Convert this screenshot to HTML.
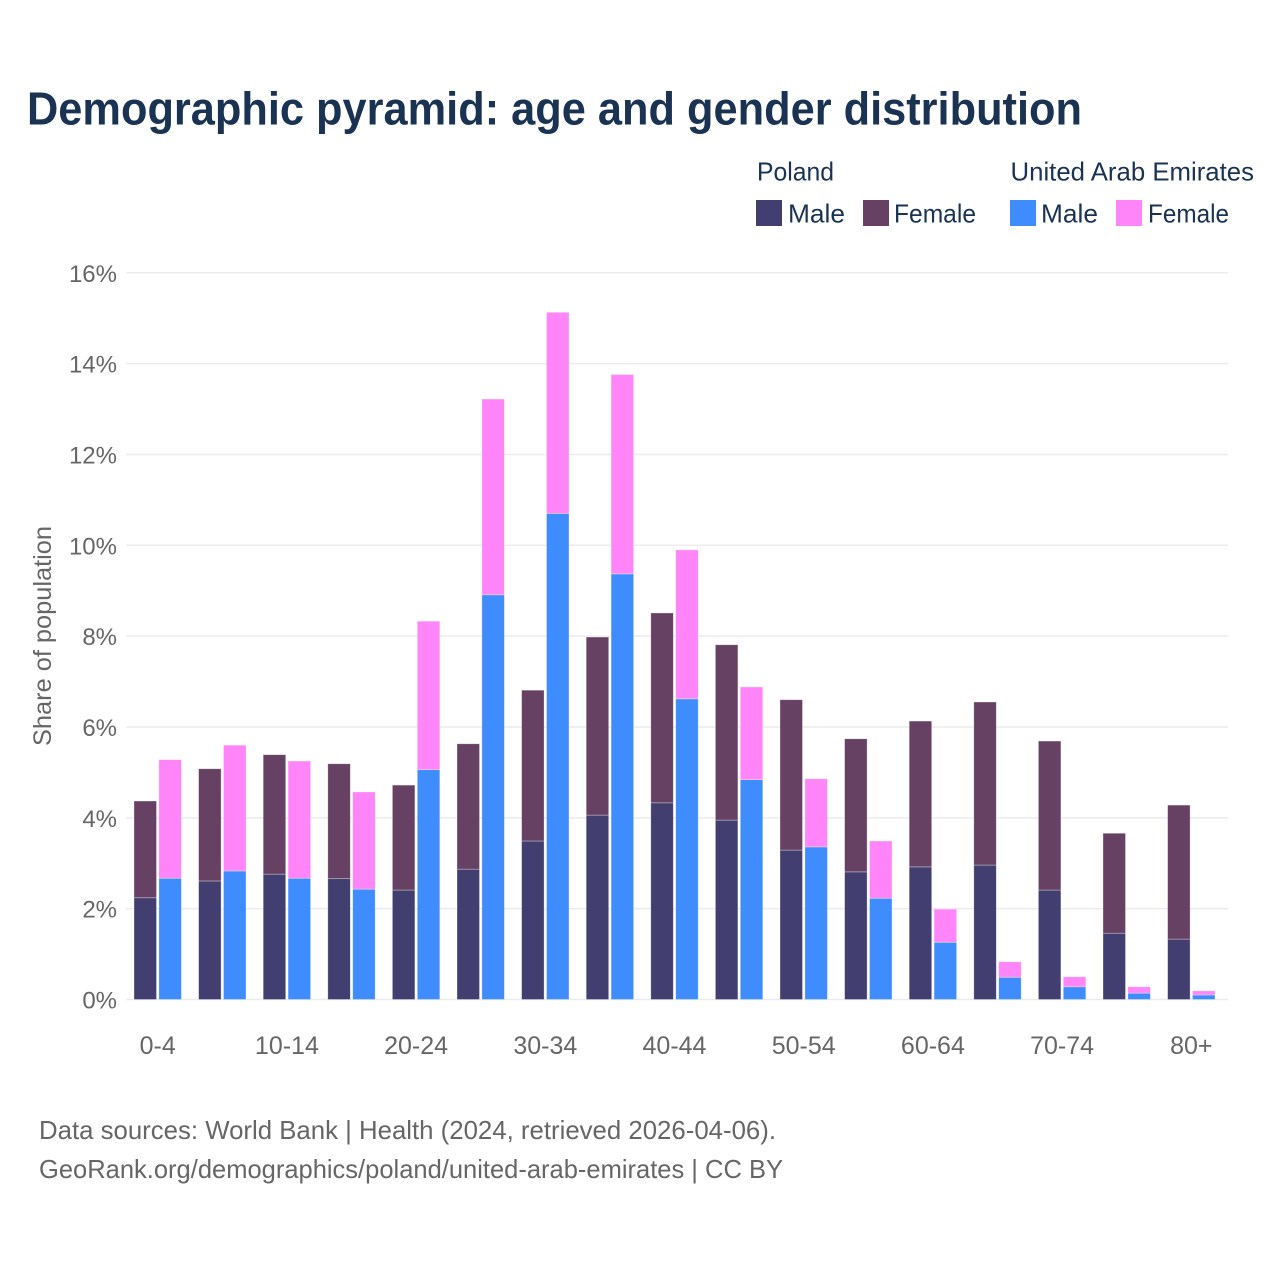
<!DOCTYPE html>
<html lang="en">
<head>
<meta charset="utf-8">
<title>Demographic pyramid: age and gender distribution</title>
<style>
html,body{margin:0;padding:0;background:#fff;}
svg{display:block;font-family:"Liberation Sans",Arial,sans-serif;}
</style>
</head>
<body>
<svg id="chart" xmlns="http://www.w3.org/2000/svg" width="1280" height="1280" viewBox="0 0 1280 1280">
  <rect x="0" y="0" width="1280" height="1280" fill="#ffffff"/>
  <text x="27" y="124.5" font-size="46.5" font-weight="700" fill="#1a3352" textLength="1055" lengthAdjust="spacingAndGlyphs">Demographic pyramid: age and gender distribution</text>

  <g font-size="26" fill="#1a3352">
    <text x="757" y="180.5" textLength="77" lengthAdjust="spacingAndGlyphs">Poland</text>
    <text x="1010.5" y="180.5" textLength="243.5" lengthAdjust="spacingAndGlyphs">United Arab Emirates</text>
    <rect x="756" y="200" width="26" height="26" fill="#423f70"/>
    <text x="788" y="222.5" textLength="57" lengthAdjust="spacingAndGlyphs">Male</text>
    <rect x="863" y="200" width="26" height="26" fill="#674163"/>
    <text x="894" y="222.5" textLength="82" lengthAdjust="spacingAndGlyphs">Female</text>
    <rect x="1010" y="200" width="26" height="26" fill="#3f8cff"/>
    <text x="1041" y="222.5" textLength="57" lengthAdjust="spacingAndGlyphs">Male</text>
    <rect x="1116" y="200" width="26" height="26" fill="#ff85f8"/>
    <text x="1148" y="222.5" textLength="81" lengthAdjust="spacingAndGlyphs">Female</text>
  </g>

  <g id="grid"></g>
  <g id="bars"></g>
  <g id="yticks"></g>
  <g id="xticks"></g>

  <text transform="translate(51,746) rotate(-90)" font-size="25" fill="#666666" textLength="220" lengthAdjust="spacingAndGlyphs">Share of population</text>

  <text x="39" y="1139" font-size="26" fill="#666666" textLength="737" lengthAdjust="spacingAndGlyphs">Data sources: World Bank | Health (2024, retrieved 2026-04-06).</text>
  <text x="39" y="1178" font-size="26" fill="#666666" textLength="744" lengthAdjust="spacingAndGlyphs">GeoRank.org/demographics/poland/united-arab-emirates | CC BY</text>
</svg>
<script>
const categories = ['0-4','5-9','10-14','15-19','20-24','25-29','30-34','35-39','40-44','45-49','50-54','55-59','60-64','65-69','70-74','75-79','80+'];
const polandMale = [2.24,2.61,2.76,2.66,2.41,2.87,3.49,4.06,4.33,3.95,3.29,2.81,2.92,2.96,2.41,1.46,1.33];
const polandFemale = [2.13,2.47,2.63,2.53,2.31,2.76,3.32,3.92,4.18,3.86,3.31,2.93,3.21,3.59,3.28,2.20,2.95];
const uaeMale = [2.67,2.83,2.67,2.43,5.06,8.91,10.70,9.37,6.62,4.84,3.36,2.23,1.26,0.49,0.28,0.14,0.10];
const uaeFemale = [2.61,2.77,2.58,2.14,3.27,4.31,4.43,4.39,3.28,2.04,1.50,1.26,0.73,0.34,0.22,0.14,0.09];
const yTickValues = [0,2,4,6,8,10,12,14,16];
const NS = 'http://www.w3.org/2000/svg';
const BASE_Y = 999.5, PX_PER_PCT = 45.42;
const FIRST_X = 157.7, STEP_X = 64.6;
const BAR_W = 22.5, BAR_OFF = 1.2;
function yScale(v){ return BASE_Y - v * PX_PER_PCT; }
function xCenter(i){ return FIRST_X + STEP_X * i; }
function mk(tag, attrs){
  const el = document.createElementNS(NS, tag);
  Object.keys(attrs).forEach(function(k){ el.setAttribute(k, attrs[k]); });
  return el;
}
const grid = document.getElementById('grid');
const yticks = document.getElementById('yticks');
yTickValues.forEach(function(v){
  const line = mk('line', {x1:126, x2:1228, y1:yScale(v), y2:yScale(v), stroke:'#ececec', 'stroke-width':1.5});
  
  
  grid.appendChild(line);
  const t = mk('text', {x:117, y:yScale(v)+9, 'text-anchor':'end', 'font-size':24, fill:'#666666'});
  
  
  t.textContent = v + '%';
  yticks.appendChild(t);
});
const bars = document.getElementById('bars');
function stack(x, base, height, fill, name){
  const r = mk('rect', {x:x, y:yScale(base+height), width:BAR_W, height:height*PX_PER_PCT, fill:fill, stroke:'#ffffff', 'stroke-opacity':0.45, 'stroke-width':0.7});
  
  
  bars.appendChild(r);
}
categories.forEach(function(c, i){
  const cx = xCenter(i);
  const xP = cx - BAR_OFF - BAR_W;
  const xU = cx + BAR_OFF;
  stack(xP, 0, polandMale[i], '#423f70', 'bar-poland-male');
  stack(xP, polandMale[i], polandFemale[i], '#674163', 'bar-poland-female');
  stack(xU, 0, uaeMale[i], '#3f8cff', 'bar-uae-male');
  stack(xU, uaeMale[i], uaeFemale[i], '#ff85f8', 'bar-uae-female');
});
const xticks = document.getElementById('xticks');
categories.forEach(function(c, i){
  if (i % 2 !== 0) return;
  const t = mk('text', {x:xCenter(i), y:1054, 'text-anchor':'middle', 'font-size':25, fill:'#666666'});
  
  
  t.textContent = c;
  xticks.appendChild(t);
});
</script>
</body>
</html>
